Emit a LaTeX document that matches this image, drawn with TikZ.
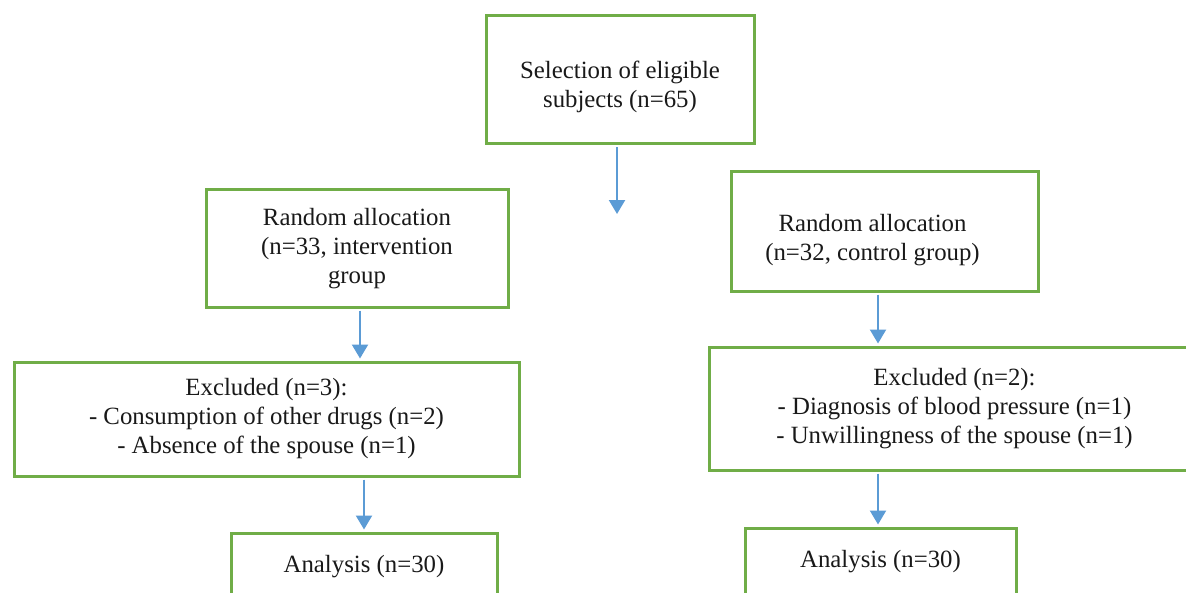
\documentclass[tikz,border=0pt]{standalone}
\usepackage{fontspec}
\setmainfont{Liberation Serif}
\usetikzlibrary{arrows.meta}
\definecolor{boxgreen}{HTML}{70AD47}
\definecolor{arrowblue}{HTML}{5B9BD5}
\begin{document}
\begin{tikzpicture}[x=0.5pt,y=-0.5pt,
  txt/.style={align=center, font=\fontsize{12.4pt}{14.5pt}\selectfont, text=black!90},
  box/.style={draw=boxgreen, line width=1.5pt, inner sep=0pt, txt},
  arr/.style={draw=arrowblue, line width=1.1pt, -{Triangle[width=8pt,length=7pt]}, shorten >=1pt}]
\useasboundingbox (0,0) rectangle (1186,593);
\fill[white] (0,0) rectangle (1186,593);
\clip (0,0) rectangle (1186,593);
\node[box, minimum width=134pt, minimum height=64pt,
  label={[txt, yshift=-3.5pt]center:Selection of eligible\\subjects (n=65)}] (top) at (620,80) {};
\coordinate (topend) at (617,216);
\node[box, minimum width=151pt, minimum height=58.5pt] (rand1) at (357,248.5) {Random allocation\\(n=33, intervention\\group};
\node[box, minimum width=153.5pt, minimum height=59.5pt,
  label={[txt, yshift=-4.5pt, xshift=-6pt]center:Random allocation\\(n=32, control group)}] (rand2) at (884.5,231.5) {};
\node[box, minimum width=252.5pt, minimum height=57pt] (excl1) at (266.5,419) {Excluded (n=3):\\- Consumption of other drugs (n=2)\\- Absence of the spouse (n=1)};
\node[box, minimum width=245.5pt, minimum height=61.5pt] (excl2) at (954.5,408.5) {Excluded (n=2):\\- Diagnosis of blood pressure (n=1)\\- Unwillingness of the spouse (n=1)};
\node[box, minimum width=133pt, minimum height=34pt] (ana1) at (364,567) {Analysis (n=30)};
\node[box, minimum width=135.5pt, minimum height=34pt] (ana2) at (880.5,562) {Analysis (n=30)};
\draw[arr] ([yshift=-1pt]top.south -| 617,0) -- (topend);
\draw[arr] ([yshift=-1pt]rand1.south -| 360,0) -- (excl1.north -| 360,0);
\draw[arr] ([yshift=-1pt]rand2.south -| 878,0) -- (excl2.north -| 878,0);
\draw[arr] ([yshift=-1pt]excl1.south -| 364,0) -- (ana1.north -| 364,0);
\draw[arr] ([yshift=-1pt]excl2.south -| 878,0) -- (ana2.north -| 878,0);
\end{tikzpicture}
\end{document}
